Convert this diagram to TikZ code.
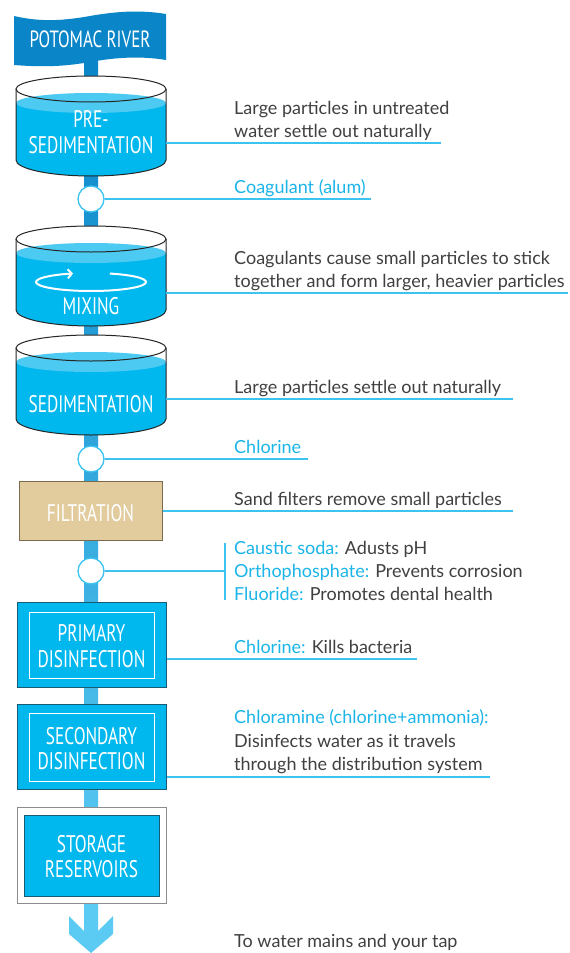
\documentclass[tikz,border=0pt]{standalone}
\usepackage{fontspec}
\setmainfont{Lato}
\newfontfamily\condfont[FakeStretch=0.72]{PT Sans}
\usetikzlibrary{arrows.meta}
\definecolor{bannerblue}{HTML}{0A86C8}
\definecolor{water}{HTML}{00B8EE}
\definecolor{surface}{HTML}{4CCAF2}
\definecolor{linecyan}{HTML}{3CC3EF}
\definecolor{txtcyan}{HTML}{1BB5E9}
\definecolor{txtgray}{HTML}{404040}
\definecolor{tanfill}{HTML}{E2CC9D}
\definecolor{tanedge}{HTML}{7A6A4E}
\definecolor{boxedge}{HTML}{1B5A73}
\definecolor{arrowblue}{HTML}{5CCBF3}
\definecolor{pipemid}{HTML}{2FB2E6}
\begin{document}
\begin{tikzpicture}[x=1pt,y=-1pt,
  lbl/.style={font=\condfont\fontsize{24}{24}\selectfont, text=white, anchor=base, inner sep=0},
  rtext/.style={font=\fontsize{18}{20}\selectfont, text=txtgray, anchor=base west, inner sep=0},
  conn/.style={draw=linecyan, line width=1.3},
  valve/.style={circle, draw=linecyan, fill=white, line width=1.3, minimum size=26, inner sep=0},
  tankline/.style={draw=black!85, line width=1},
  bluebox/.style={draw=boxedge, fill=water, line width=1, inner sep=0},
  innerbox/.style={draw=white, line width=1, inner sep=0},
  tank/.pic={
    \fill[white] (91,0) ellipse[x radius=75, y radius=13];
    \fill[water] (16,14) -- (16,71) arc[start angle=180, end angle=0, x radius=75, y radius=16] -- (166,14) -- cycle;
    \fill[surface] (91,14) ellipse[x radius=75, y radius=10];
    \draw[tankline] (91,0) ellipse[x radius=75, y radius=13];
    \draw[tankline] (16,0) -- (16,71) arc[start angle=180, end angle=0, x radius=75, y radius=16] -- (166,0);
  }
]
\useasboundingbox (0,0) rectangle (570,953);
\fill[white] (0,0) rectangle (570,953);

% pipe
\shade[top color=bannerblue, middle color=pipemid, bottom color=arrowblue] (84,60) rectangle (98,908);
% arrow head
\fill[arrowblue] (84,906) -- (98,906) -- (98,931) -- (113,916) -- (113,934) -- (91,953) -- (69,934) -- (69,916) -- (84,931) -- cycle;

% banner
\fill[bannerblue] (14,16) .. controls (40,22) and (62,21) .. (90,16) .. controls (118,11) and (142,10) .. (166,14)
  -- (166,60) .. controls (142,56) and (118,57) .. (90,62) .. controls (62,67) and (40,67) .. (14,65) -- cycle;
\node[lbl, font=\condfont\fontsize{23.5}{24}\selectfont] (river) at (90,47) {POTOMAC RIVER};

% tanks
\pic at (0,89) {tank};
\pic at (0,239) {tank};
\pic at (0,348) {tank};
\node[lbl] (pre) at (91,127) {PRE-};
\node[lbl] (presed) at (91,153) {SEDIMENTATION};
\draw[white, line width=2, -{Straight Barb[length=4pt,width=9pt]}] (91,282) ++(-70:55 and 9) arc[start angle=-70, end angle=251, x radius=55, y radius=9];
\node[lbl] (mix) at (91,314) {MIXING};
\node[lbl] (sed) at (91,412) {SEDIMENTATION};

% valves
\node[valve] (v1) at (91,199) {};
\node[valve] (v2) at (91,459) {};
\node[valve] (v3) at (91,571) {};

% boxes
\node[draw=tanedge, fill=tanfill, line width=1, minimum width=143, minimum height=59, inner sep=0] (filt) at (90.5,510.5) {};
\node[lbl] (filttxt) at (90.5,521) {FILTRATION};

\node[bluebox, minimum width=149, minimum height=85] (pd) at (91.5,644.5) {};
\node[innerbox, minimum width=125, minimum height=66] (pdin) at (91.5,645) {};
\node[lbl] (pd1) at (91.5,641) {PRIMARY};
\node[lbl] (pd2) at (91.5,667) {DISINFECTION};

\node[bluebox, minimum width=149, minimum height=85] (sd) at (91.5,746.5) {};
\node[innerbox, minimum width=125, minimum height=68] (sdin) at (91.5,747) {};
\node[lbl] (sd1) at (91.5,744) {SECONDARY};
\node[lbl] (sd2) at (91.5,769) {DISINFECTION};

\node[draw=black!45, fill=white, line width=1, minimum width=149, minimum height=96, inner sep=0] (st) at (91.5,855) {};
\node[bluebox, minimum width=135, minimum height=81] (stin) at (91.5,855.5) {};
\node[lbl] (st1) at (91.5,852) {STORAGE};
\node[lbl] (st2) at (91.5,877) {RESERVOIRS};

% connector end points
\coordinate (t1a) at (166,143);
\coordinate (t1b) at (441,143);
\coordinate (v1e) at (371,199);
\coordinate (t2a) at (166,293);
\coordinate (t2b) at (568,293);
\coordinate (t3a) at (166,399);
\coordinate (t3b) at (513,399);
\coordinate (v2e) at (308,459);
\coordinate (fe) at (513,511);
\coordinate (v3e) at (225,571);
\coordinate (brt) at (225,543);
\coordinate (brb) at (225,600);
\coordinate (pde) at (417,659);
\coordinate (sde) at (490,777);

\draw[conn] (t1a) -- (t1b);
\draw[conn] (v1) -- (v1e);
\draw[conn] (t2a) -- (t2b);
\draw[conn] (t3a) -- (t3b);
\draw[conn] (v2) -- (v2e);
\draw[conn] (filt.east |- fe) -- (fe);
\draw[conn] (v3) -- (v3e);
\draw[conn] (brt) -- (brb);
\draw[conn] (pd.east |- pde) -- (pde);
\draw[conn] (sd.east |- sde) -- (sde);

% right texts
\node[rtext] (r1a) at (234,114) {Large particles in untreated};
\node[rtext] (r1b) at (234,137) {water settle out naturally};
\node[rtext, text=txtcyan] (r2) at (234,193) {Coagulant (alum)};
\node[rtext] (r3a) at (234,264) {Coagulants cause small particles to stick};
\node[rtext] (r3b) at (234,287) {together and form larger, heavier particles};
\node[rtext] (r4) at (234,393) {Large particles settle out naturally};
\node[rtext, text=txtcyan] (r5) at (234,453) {Chlorine};
\node[rtext] (r6) at (234,505) {Sand filters remove small particles};
\node[rtext] (r7a) at (234,554) {\textcolor{txtcyan}{Caustic soda:} Adusts pH};
\node[rtext] (r7b) at (234,577) {\textcolor{txtcyan}{Orthophosphate:} Prevents corrosion};
\node[rtext] (r7c) at (234,600) {\textcolor{txtcyan}{Fluoride:} Promotes dental health};
\node[rtext] (r8) at (234,653) {\textcolor{txtcyan}{Chlorine:} Kills bacteria};
\node[rtext, text=txtcyan] (r9a) at (234,723) {Chloramine (chlorine+ammonia):};
\node[rtext] (r9b) at (234,747) {Disinfects water as it travels};
\node[rtext] (r9c) at (234,770) {through the distribution system};
\node[rtext] (r10) at (234,947) {To water mains and your tap};
\end{tikzpicture}
\end{document}
